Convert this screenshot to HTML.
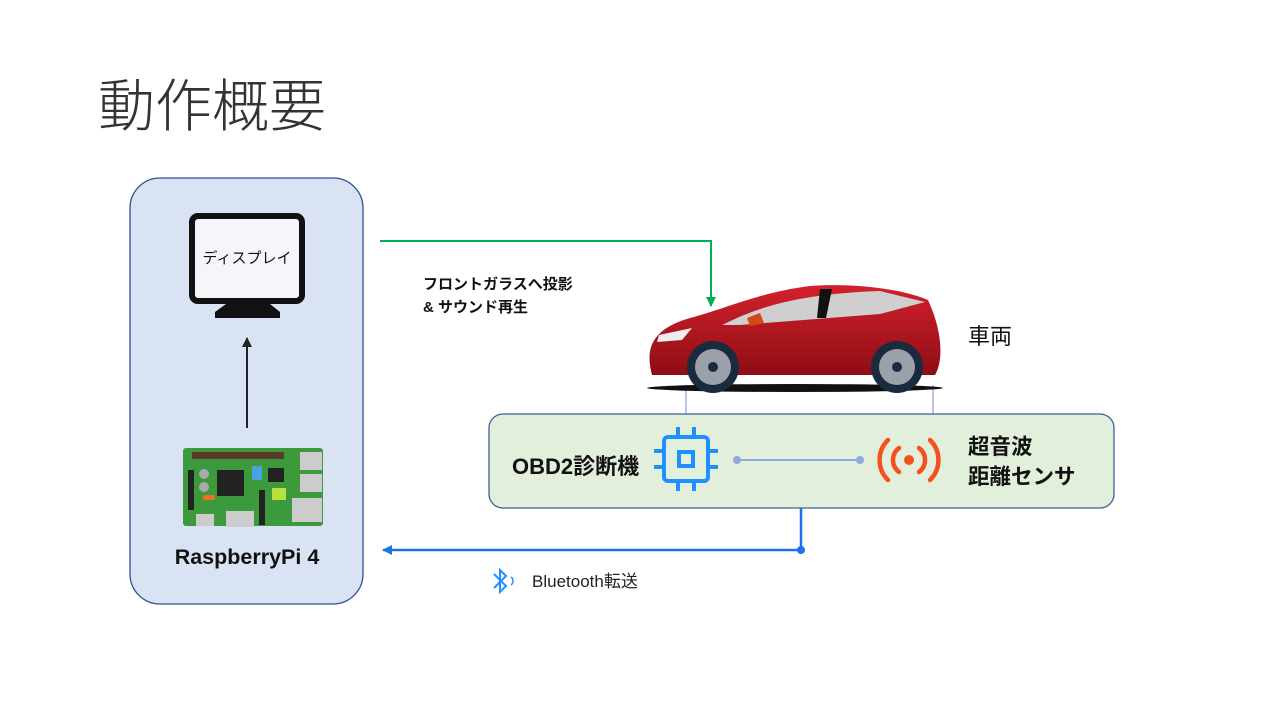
<!DOCTYPE html>
<html><head><meta charset="utf-8"><style>
html,body{margin:0;padding:0;background:#fff;}
svg{display:block;}
text{font-family:"Liberation Sans","Noto Sans CJK JP",sans-serif;}
</style></head><body>
<svg width="1277" height="719" viewBox="0 0 1277 719" xmlns="http://www.w3.org/2000/svg">
<defs>
<marker id="ag" markerUnits="userSpaceOnUse" markerWidth="10" markerHeight="10" refX="9" refY="5" orient="auto"><path d="M0,0 L10,5 L0,10 z" fill="#00b050"/></marker>
<marker id="ak" markerUnits="userSpaceOnUse" markerWidth="10" markerHeight="10" refX="9" refY="5" orient="auto"><path d="M0,0 L10,5 L0,10 z" fill="#222"/></marker>
<marker id="ab" markerUnits="userSpaceOnUse" markerWidth="10" markerHeight="10" refX="9" refY="5" orient="auto"><path d="M0,0 L10,5 L0,10 z" fill="#1a73e8"/></marker>
<linearGradient id="cg" x1="0" y1="0" x2="0" y2="1"><stop offset="0" stop-color="#d3212c"/><stop offset="1" stop-color="#8e0d14"/></linearGradient>
</defs>
<text x="98" y="126" font-size="57" fill="#333" font-weight="300">動作概要</text>

<rect x="130" y="178" width="233" height="426" rx="30" fill="#dae3f3" stroke="#2f4f8f" stroke-width="1.3"/>
<rect x="192" y="216" width="110" height="85" rx="6" fill="#f4f6f9" stroke="#111" stroke-width="6"/>
<path d="M226,304 L270,304 L280,312 L280,318 L215,318 L215,312 Z" fill="#111"/>
<text x="247" y="263" font-size="15" text-anchor="middle" fill="#111">ディスプレイ</text>
<line x1="247" y1="428" x2="247" y2="338" stroke="#222" stroke-width="2" marker-end="url(#ak)"/>
<rect x="183" y="448" width="140" height="78" rx="3" fill="#3c9a3c"/>
<rect x="192" y="452" width="92" height="7" fill="#5a3a2a"/>
<rect x="217" y="470" width="27" height="26" fill="#222"/>
<rect x="268" y="468" width="16" height="14" fill="#222"/>
<rect x="188" y="470" width="6" height="40" fill="#222"/>
<rect x="259" y="490" width="6" height="35" fill="#222"/>
<rect x="300" y="452" width="22" height="18" fill="#ccc"/>
<rect x="300" y="474" width="22" height="18" fill="#ccc"/>
<rect x="292" y="498" width="30" height="24" fill="#ccc"/>
<rect x="226" y="511" width="28" height="16" fill="#ccc"/>
<rect x="196" y="514" width="18" height="12" fill="#ccc"/>
<rect x="203" y="495" width="12" height="5" rx="2" fill="#f07020"/>
<circle cx="204" cy="474" r="5" fill="#aaa"/><circle cx="204" cy="487" r="5" fill="#aaa"/>
<rect x="252" y="466" width="10" height="14" fill="#4aa3df"/>
<rect x="272" y="488" width="14" height="12" fill="#b8e040"/>
<text x="247" y="564" font-size="21.5" font-weight="bold" text-anchor="middle" fill="#111">RaspberryPi 4</text>

<polyline points="380,241 711,241 711,306" fill="none" stroke="#00b050" stroke-width="2" marker-end="url(#ag)"/>
<text x="423" y="289" font-size="15" font-weight="bold" fill="#111">フロントガラスへ投影</text>
<text x="423" y="312" font-size="15" font-weight="bold" fill="#111">&amp; サウンド再生</text>

<line x1="686" y1="385" x2="686" y2="414" stroke="#b4c7e7" stroke-width="2"/>
<line x1="933" y1="385" x2="933" y2="414" stroke="#b4c7e7" stroke-width="2"/>
<ellipse cx="795" cy="388" rx="148" ry="4" fill="#111"/>
<path d="M652,375 C646,352 648,330 690,318 C722,310 760,292 810,286 C850,283 900,288 928,300 C942,330 944,360 935,375 Z" fill="url(#cg)"/>
<path d="M722,325 C760,306 800,294 880,291 L925,302 L880,314 L740,325 Z" fill="#cfcfcf"/>
<path d="M820,289 L832,289 L826,318 L817,318 Z" fill="#111"/>
<path d="M747,318 L760,313 L764,323 L750,326 Z" fill="#d24a1a"/>
<path d="M659,335 L692,328 L682,340 L657,342 Z" fill="#eee"/>
<circle cx="713" cy="367" r="26" fill="#1a2a3f"/><circle cx="713" cy="367" r="18" fill="#9aa1a8"/><circle cx="713" cy="367" r="5" fill="#1a2a3f"/>
<circle cx="897" cy="367" r="26" fill="#1a2a3f"/><circle cx="897" cy="367" r="18" fill="#9aa1a8"/><circle cx="897" cy="367" r="5" fill="#1a2a3f"/>
<text x="968" y="344" font-size="22" fill="#111">車両</text>

<rect x="489" y="414" width="625" height="94" rx="14" fill="#e2efda" stroke="#3f5f93" stroke-width="1.3"/>
<text x="512" y="474" font-size="22" font-weight="bold" fill="#111">OBD2診断機</text>
<g stroke="#1e90ff" stroke-width="4" fill="none">
<rect x="664" y="437" width="44" height="44" rx="4"/>
<rect x="679" y="452" width="14" height="14"/>
<line x1="678" y1="427" x2="678" y2="437"/><line x1="694" y1="427" x2="694" y2="437"/>
<line x1="678" y1="481" x2="678" y2="491"/><line x1="694" y1="481" x2="694" y2="491"/>
<line x1="654" y1="451" x2="664" y2="451"/><line x1="654" y1="467" x2="664" y2="467"/>
<line x1="708" y1="451" x2="718" y2="451"/><line x1="708" y1="467" x2="718" y2="467"/>
</g>
<line x1="737" y1="460" x2="860" y2="460" stroke="#8faadc" stroke-width="2"/>
<circle cx="737" cy="460" r="4" fill="#8faadc"/><circle cx="860" cy="460" r="4" fill="#8faadc"/>
<g stroke="#f4511e" stroke-width="4.5" fill="none" stroke-linecap="round">
<path d="M888,440 A28,28 0 0 0 888,480"/><path d="M930,440 A28,28 0 0 1 930,480"/>
<path d="M899,448 A15,15 0 0 0 899,472"/><path d="M919,448 A15,15 0 0 1 919,472"/>
</g>
<circle cx="909" cy="460" r="5" fill="#f4511e"/>
<text x="968" y="454" font-size="21.5" font-weight="bold" fill="#111">超音波</text>
<text x="968" y="484" font-size="21.5" font-weight="bold" fill="#111">距離センサ</text>

<polyline points="801,508 801,550 383,550" fill="none" stroke="#1a73e8" stroke-width="2.5" marker-end="url(#ab)"/>
<circle cx="801" cy="550" r="4" fill="#1a73e8"/>
<path d="M494,574 L506,586 L500,592 L500,570 L506,576 L494,588" fill="none" stroke="#1e90ff" stroke-width="2"/>
<path d="M511,577 A5,5 0 0 1 511,585" fill="none" stroke="#1e90ff" stroke-width="1.5"/>
<text x="532" y="587" font-size="17" fill="#222">Bluetooth転送</text>
</svg>
</body></html>
